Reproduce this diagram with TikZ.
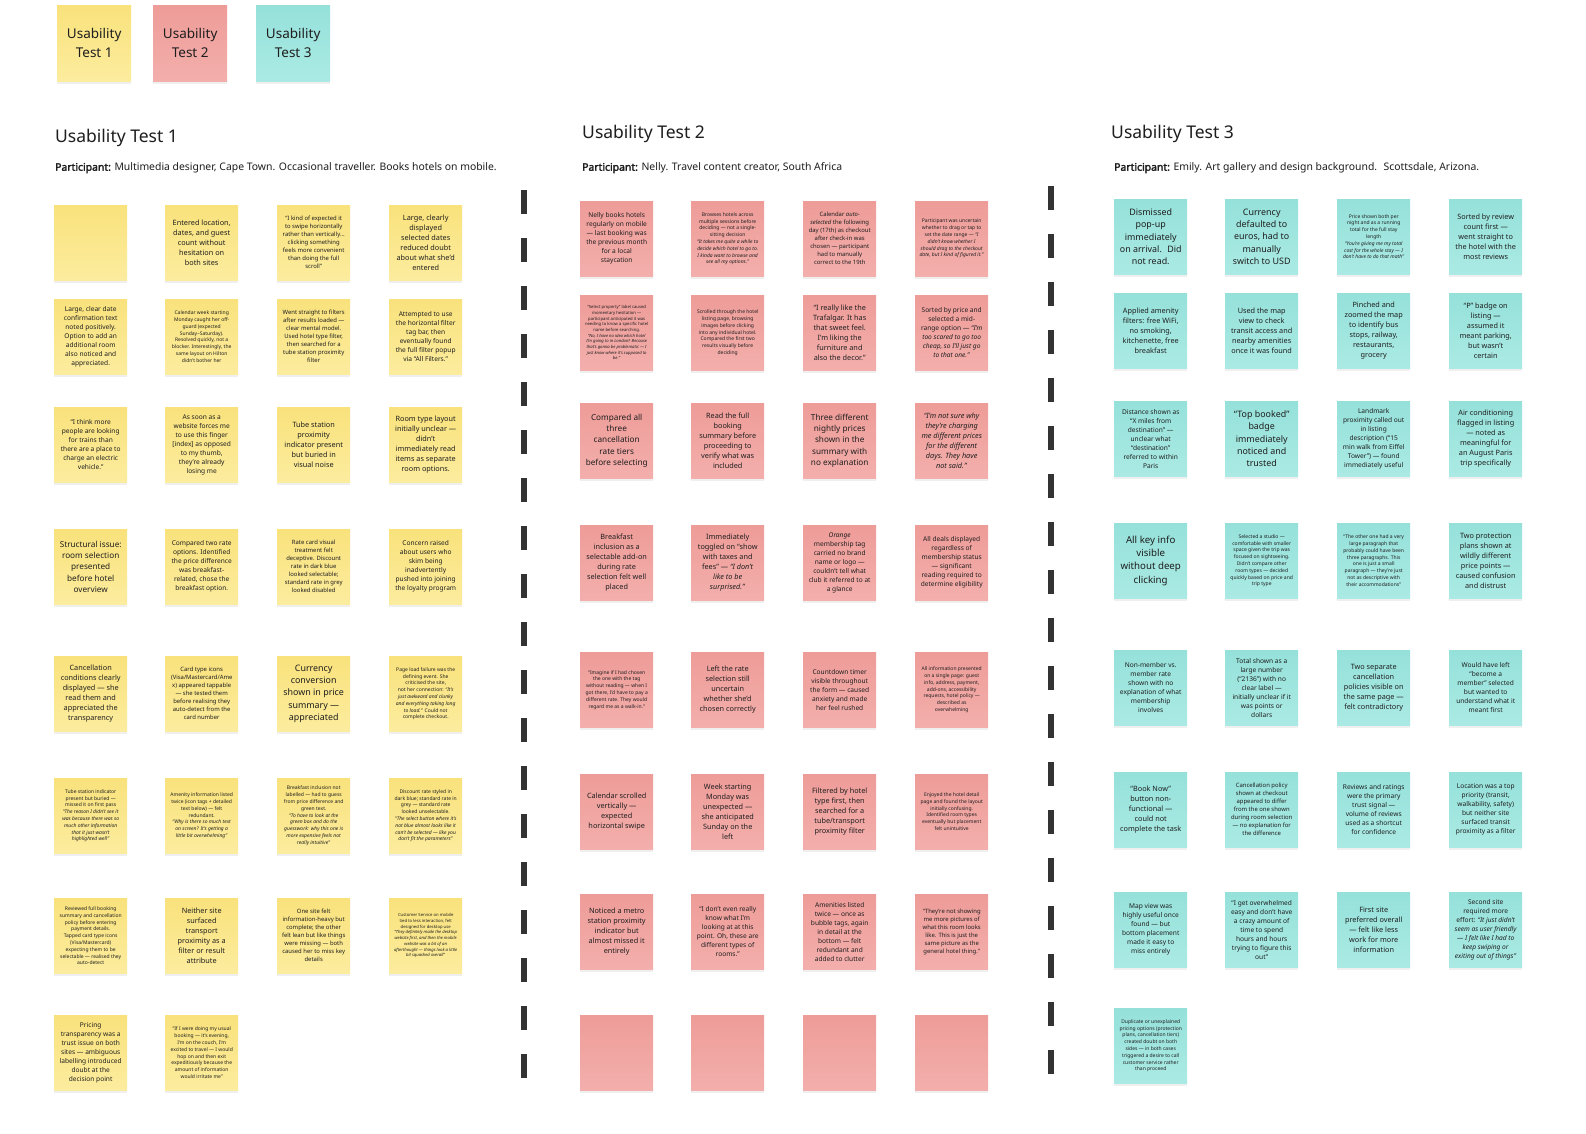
\documentclass[tikz,border=0pt]{standalone}
\usepackage{fontspec}
\setmainfont{Noto Sans}[AutoFakeBold=2.5]
\usetikzlibrary{shadows}

\definecolor{ink}{HTML}{1E1E1E}
\definecolor{rule}{HTML}{333333}
\definecolor{yelTop}{HTML}{F9E27C}
\definecolor{yelBot}{HTML}{FCEC9E}
\definecolor{redTop}{HTML}{EE9C98}
\definecolor{redBot}{HTML}{F3AFAC}
\definecolor{tealTop}{HTML}{95E1DA}
\definecolor{tealBot}{HTML}{ABEAE4}

\begin{document}
\begin{tikzpicture}[x=1pt, y=-1pt,
        note/.style={rectangle, anchor=north west, minimum width=73pt, minimum height=75pt, inner sep=0pt, align=center, text=ink,
            drop shadow={shadow xshift=0pt, shadow yshift=-3pt, opacity=0.12}},
        yel/.style={note, top color=yelTop, bottom color=yelBot},
        red/.style={note, top color=redTop, bottom color=redBot},
        teal/.style={note, top color=tealTop, bottom color=tealBot},
        keynote/.style={minimum width=74pt, minimum height=76pt, font=\fontsize{13.5}{19}\selectfont},
        fxl/.style={font=\fontsize{9.7}{13.3}\selectfont},
        fbig/.style={font=\fontsize{8.9}{12.2}\selectfont},
        flg/.style={font=\fontsize{8.2}{11.3}\selectfont},
        fmid/.style={font=\fontsize{7.3}{10}\selectfont},
        fsm/.style={font=\fontsize{6.6}{9}\selectfont},
        fmini/.style={font=\fontsize{5.9}{8}\selectfont},
        fmic/.style={font=\fontsize{5.0}{6.8}\selectfont},
        fnano/.style={font=\fontsize{4.2}{5.7}\selectfont},
        head/.style={anchor=west, inner sep=0pt, text=ink, font=\fontsize{17.5}{21}\selectfont},
        part/.style={anchor=west, inner sep=0pt, text=ink, font=\fontsize{10.4}{12.5}\selectfont},
        divider/.style={draw=rule, line width=6pt, dash pattern=on 24pt off 24pt}
    ]

    \fill[white] (0,0) rectangle (1586,1133);
    \useasboundingbox (0,0) rectangle (1586,1133);

    % legend
    \node[yel, keynote] (key1) at (57,5) {Usability\\Test 1};
    \node[red, keynote] (key2) at (153,5) {Usability\\Test 2};
    \node[teal, keynote] (key3) at (256,5) {Usability\\Test 3};

    % headings
    \node[head] (head1) at (55,137.5) {Usability Test 1};
    \node[head] (head2) at (582,133.5) {Usability Test 2};
    \node[head] (head3) at (1111,133.5) {Usability Test 3};
    \node[part] (part1) at (55,168) {\textbf{Participant:} Multimedia designer, Cape Town. Occasional traveller. Books hotels on mobile.};
    \node[part] (part2) at (582,168) {\textbf{Participant:} Nelly. Travel content creator, South Africa};
    \node[part] (part3) at (1114,168) {\textbf{Participant:} Emily. Art gallery and design background.~ Scottsdale, Arizona.};

    % dividers
    \coordinate (d1top) at (524,190);
    \coordinate (d1bot) at (524,1078);
    \coordinate (d2top) at (1051,186);
    \coordinate (d2bot) at (1051,1074);
    \draw[divider] (d1top) -- (d1bot);
    \draw[divider] (d2top) -- (d2bot);

    % Usability Test 1
    \node[yel] (y11) at (54,205) {};
    \node[yel, fmid] (y12) at (165,205) {Entered location,\\dates, and guest\\count without\\hesitation on\\both sites};
    \node[yel, fmini] (y13) at (277,205) {“I kind of expected it\\to swipe horizontally\\rather than vertically…\\clicking something\\feels more convenient\\than doing the full\\scroll”};
    \node[yel, fmid] (y14) at (389,205) {Large, clearly\\displayed\\selected dates\\reduced doubt\\about what she’d\\entered};

    \node[yel, fsm] (y21) at (54,299) {Large, clear date\\confirmation text\\noted positively.\\Option to add an\\additional room\\also noticed and\\appreciated.};
    \node[yel, fmic] (y22) at (165,299) {Calendar week starting\\Monday caught her off-\\guard (expected\\Sunday–Saturday).\\Resolved quickly, not a\\blocker. Interestingly, the\\same layout on Hilton\\didn’t bother her};
    \node[yel, fmini] (y23) at (277,299) {Went straight to filters\\after results loaded —\\clear mental model.\\Used hotel type filter,\\then searched for a\\tube station proximity\\filter};
    \node[yel, fsm] (y24) at (389,299) {Attempted to use\\the horizontal filter\\tag bar, then\\eventually found\\the full filter popup\\via “All Filters.”};

    \node[yel, fsm] (y31) at (54,407) {“I think more\\people are looking\\for trains than\\there are a place to\\charge an electric\\vehicle.”};
    \node[yel, fsm] (y32) at (165,407) {As soon as a\\website forces me\\to use this finger\\{[index]} as opposed\\to my thumb,\\they’re already\\losing me};
    \node[yel, fmid] (y33) at (277,407) {Tube station\\proximity\\indicator present\\but buried in\\visual noise};
    \node[yel, fmid] (y34) at (389,407) {Room type layout\\initially unclear —\\didn’t\\immediately read\\items as separate\\room options.};

    \node[yel, flg] (y41) at (54,529) {Structural issue:\\room selection\\presented\\before hotel\\overview};
    \node[yel, fsm] (y42) at (165,529) {Compared two rate\\options. Identified\\the price difference\\was breakfast-\\related, chose the\\breakfast option.};
    \node[yel, fmini] (y43) at (277,529) {Rate card visual\\treatment felt\\deceptive. Discount\\rate in dark blue\\looked selectable;\\standard rate in grey\\looked disabled};
    \node[yel, fsm] (y44) at (389,529) {Concern raised\\about users who\\skim being\\inadvertently\\pushed into joining\\the loyalty program};

    \node[yel, fmid] (y51) at (54,656) {Cancellation\\conditions clearly\\displayed — she\\read them and\\appreciated the\\transparency};
    \node[yel, fmini] (y52) at (165,656) {Card type icons\\(Visa/Mastercard/Ame\\x) appeared tappable\\— she tested them\\before realising they\\auto-detect from the\\card number};
    \node[yel, fbig] (y53) at (277,656) {Currency\\conversion\\shown in price\\summary —\\appreciated};
    \node[yel, fmic] (y54) at (389,656) {Page load failure was the\\defining event. She\\criticised the site,\\not her connection: \textit{“It’s}\\\textit{just awkward and clunky}\\\textit{and everything taking long}\\\textit{to load.”} Could not\\complete checkout.};

    \node[yel, fmic] (y61) at (54,778) {Tube station indicator\\present but buried —\\missed it on first pass\\\textit{“The reason I didn’t see it}\\\textit{was because there was so}\\\textit{much other information}\\\textit{that it just wasn’t}\\\textit{highlighted well”}};
    \node[yel, fmic] (y62) at (165,778) {Amenity information listed\\twice (icon tags + detailed\\text below) — felt\\redundant.\\\textit{“Why is there so much text}\\\textit{on screen? It’s getting a}\\\textit{little bit overwhelming”}};
    \node[yel, fmic] (y63) at (277,778) {Breakfast inclusion not\\labelled — had to guess\\from price difference and\\green text.\\\textit{“To have to look at the}\\\textit{green box and do the}\\\textit{guesswork: why this one is}\\\textit{more expensive feels not}\\\textit{really intuitive”}};
    \node[yel, fmic] (y64) at (389,778) {Discount rate styled in\\dark blue; standard rate in\\grey — standard rate\\looked unselectable.\\\textit{“The select button where it’s}\\\textit{not blue almost looks like it}\\\textit{can’t be selected — like you}\\\textit{don’t fit the parameters”}};

    \node[yel, fmic] (y71) at (54,898) {Reviewed full booking\\summary and cancellation\\policy before entering\\payment details.\\Tapped card type icons\\(Visa/Mastercard)\\expecting them to be\\selectable — realised they\\auto-detect};
    \node[yel, fmid] (y72) at (165,898) {Neither site\\surfaced\\transport\\proximity as a\\filter or result\\attribute};
    \node[yel, fmini] (y73) at (277,898) {One site felt\\information-heavy but\\complete; the other\\felt lean but like things\\were missing — both\\caused her to miss key\\details};
    \node[yel, fnano] (y74) at (389,898) {Customer Service on mobile\\tied to less interaction, felt\\designed for desktop use\\\textit{“They definitely made the desktop}\\\textit{website first, and then the mobile}\\\textit{website was a bit of an}\\\textit{afterthought — things look a little}\\\textit{bit squashed overall”}};

    \node[yel, fsm] (y81) at (54,1015) {Pricing\\transparency was a\\trust issue on both\\sites — ambiguous\\labelling introduced\\doubt at the\\decision point};
    \node[yel, fmic] (y82) at (165,1015) {“If I were doing my usual\\booking — it’s evening,\\I’m on the couch, I’m\\excited to travel — I would\\hop on and then exit\\expeditiously because the\\amount of information\\would irritate me”};

    % Usability Test 2
    \node[red, fsm] (r11) at (580,201) {Nelly books hotels\\regularly on mobile\\— last booking was\\the previous month\\for a local\\staycation};
    \node[red, fmic] (r12) at (691,201) {Browses hotels across\\multiple sessions before\\deciding — not a single-\\sitting decision\\\textit{“It takes me quite a while to}\\\textit{decide which hotel to go to.}\\\textit{I kinda want to browse and}\\\textit{see all my options.”}};
    \node[red, fmini] (r13) at (803,201) {Calendar \textit{auto-}\\\textit{selected} the following\\day (17th) as checkout\\after check-in was\\chosen — participant\\had to manually\\correct to the 19th};
    \node[red, fmic] (r14) at (915,201) {Participant was uncertain\\whether to drag or tap to\\set the date range — \textit{“I}\\\textit{didn’t know whether I}\\\textit{should drag to the checkout}\\\textit{date, but I kind of figured it.”}};

    \node[red, fnano] (r21) at (580,295) {“Select property” label caused\\momentary hesitation —\\participant anticipated it was\\needing to know a specific hotel\\name before searching.\\\textit{“No, I have no idea which hotel}\\\textit{I’m going to in London? Because}\\\textit{that’s gonna be problematic — I}\\\textit{just know where it’s supposed to}\\\textit{be.”}};
    \node[red, fmic] (r22) at (691,295) {Scrolled through the hotel\\listing page, browsing\\images before clicking\\into any individual hotel.\\Compared the first two\\results visually before\\deciding};
    \node[red, fmid] (r23) at (803,295) {“I really like the\\Trafalgar. It has\\that sweet feel.\\I’m liking the\\furniture and\\also the decor.”};
    \node[red, fsm] (r24) at (915,295) {Sorted by price and\\selected a mid-\\range option — \textit{“I’m}\\\textit{too scared to go too}\\\textit{cheap, so I’ll just go}\\\textit{to that one.”}};

    \node[red, flg] (r31) at (580,403) {Compared all\\three\\cancellation\\rate tiers\\before selecting};
    \node[red, fmid] (r32) at (691,403) {Read the full\\booking\\summary before\\proceeding to\\verify what was\\included};
    \node[red, flg] (r33) at (803,403) {Three different\\nightly prices\\shown in the\\summary with\\no explanation};
    \node[red, fmid] (r34) at (915,403) {\textit{“I’m not sure why}\\\textit{they’re charging}\\\textit{me different prices}\\\textit{for the different}\\\textit{days. They have}\\\textit{not said.”}};

    \node[red, fmid] (r41) at (580,525) {Breakfast\\inclusion as a\\selectable add-on\\during rate\\selection felt well\\placed};
    \node[red, fmid] (r42) at (691,525) {Immediately\\toggled on “show\\with taxes and\\fees” — \textit{“I don’t}\\\textit{like to be}\\\textit{surprised.”}};
    \node[red, fsm] (r43) at (803,525) {\textit{Orange}\\membership tag\\carried no brand\\name or logo —\\couldn’t tell what\\club it referred to at\\a glance};
    \node[red, fsm] (r44) at (915,525) {All deals displayed\\regardless of\\membership status\\— significant\\reading required to\\determine eligibility};

    \node[red, fmic] (r51) at (580,652) {“Imagine if I had chosen\\the one with the tag\\without reading — when I\\got there, I’d have to pay a\\different rate. They would\\regard me as a walk-in.”};
    \node[red, fmid] (r52) at (691,652) {Left the rate\\selection still\\uncertain\\whether she’d\\chosen correctly};
    \node[red, fsm] (r53) at (803,652) {Countdown timer\\visible throughout\\the form — caused\\anxiety and made\\her feel rushed};
    \node[red, fmic] (r54) at (915,652) {All information presented\\on a single page: guest\\info, address, payment,\\add-ons, accessibility\\requests, hotel policy —\\described as\\overwhelming};

    \node[red, fmid] (r61) at (580,774) {Calendar scrolled\\vertically —\\expected\\horizontal swipe};
    \node[red, fmid] (r62) at (691,774) {Week starting\\Monday was\\unexpected —\\she anticipated\\Sunday on the\\left};
    \node[red, fmid] (r63) at (803,774) {Filtered by hotel\\type first, then\\searched for a\\tube/transport\\proximity filter};
    \node[red, fmic] (r64) at (915,774) {Enjoyed the hotel detail\\page and found the layout\\initially confusing.\\Identified room types\\eventually but placement\\felt unintuitive};

    \node[red, fmid] (r71) at (580,894) {Noticed a metro\\station proximity\\indicator but\\almost missed it\\entirely};
    \node[red, fsm] (r72) at (691,894) {“I don’t even really\\know what I’m\\looking at at this\\point. Oh, these are\\different types of\\rooms.”};
    \node[red, fsm] (r73) at (803,894) {Amenities listed\\twice — once as\\bubble tags, again\\in detail at the\\bottom — felt\\redundant and\\added to clutter};
    \node[red, fmini] (r74) at (915,894) {“They’re not showing\\me more pictures of\\what this room looks\\like. This is just the\\same picture as the\\general hotel thing.”};

    \node[red] (r81) at (580,1015) {};
    \node[red] (r82) at (691,1015) {};
    \node[red] (r83) at (803,1015) {};
    \node[red] (r84) at (915,1015) {};

    % Usability Test 3
    \node[teal, fbig] (c11) at (1114,199) {Dismissed\\pop-up\\immediately\\on arrival.~ Did\\not read.};
    \node[teal, fbig] (c12) at (1225,199) {Currency\\defaulted to\\euros, had to\\manually\\switch to USD};
    \node[teal, fmic] (c13) at (1337,199) {Price shown both per\\night and as a running\\total for the full stay\\length\\\textit{“You’re giving me my total}\\\textit{cost for the whole stay — I}\\\textit{don’t have to do that math”}};
    \node[teal, fmid] (c14) at (1449,199) {Sorted by review\\count first —\\went straight to\\the hotel with the\\most reviews};

    \node[teal, fmid] (c21) at (1114,293) {Applied amenity\\filters: free WiFi,\\no smoking,\\kitchenette, free\\breakfast};
    \node[teal, fmid] (c22) at (1225,293) {Used the map\\view to check\\transit access and\\nearby amenities\\once it was found};
    \node[teal, fmid] (c23) at (1337,293) {Pinched and\\zoomed the map\\to identify bus\\stops, railway,\\restaurants,\\grocery};
    \node[teal, fmid] (c24) at (1449,293) {“P” badge on\\listing —\\assumed it\\meant parking,\\but wasn’t\\certain};

    \node[teal, fsm] (c31) at (1114,401) {Distance shown as\\“X miles from\\destination” —\\unclear what\\“destination”\\referred to within\\Paris};
    \node[teal, fbig] (c32) at (1225,401) {“Top booked”\\badge\\immediately\\noticed and\\trusted};
    \node[teal, fsm] (c33) at (1337,401) {Landmark\\proximity called out\\in listing\\description (“15\\min walk from Eiffel\\Tower”) — found\\immediately useful};
    \node[teal, fmid] (c34) at (1449,401) {Air conditioning\\flagged in listing\\— noted as\\meaningful for\\an August Paris\\trip specifically};

    \node[teal, fxl] (c41) at (1114,523) {All key info\\visible\\without deep\\clicking};
    \node[teal, fmic] (c42) at (1225,523) {Selected a studio —\\comfortable with smaller\\space given the trip was\\focused on sightseeing.\\Didn’t compare other\\room types — decided\\quickly based on price and\\trip type};
    \node[teal, fmic] (c43) at (1337,523) {“The other one had a very\\large paragraph that\\probably could have been\\three paragraphs. This\\one is just a small\\paragraph — they’re just\\not as descriptive with\\their accommodations”};
    \node[teal, fmid] (c44) at (1449,523) {Two protection\\plans shown at\\wildly different\\price points —\\caused confusion\\and distrust};

    \node[teal, fsm] (c51) at (1114,650) {Non-member vs.\\member rate\\shown with no\\explanation of what\\membership\\involves};
    \node[teal, fsm] (c52) at (1225,650) {Total shown as a\\large number\\(“2136”) with no\\clear label —\\initially unclear if it\\was points or\\dollars};
    \node[teal, fmid] (c53) at (1337,650) {Two separate\\cancellation\\policies visible on\\the same page —\\felt contradictory};
    \node[teal, fsm] (c54) at (1449,650) {Would have left\\“become a\\member” selected\\but wanted to\\understand what it\\meant first};

    \node[teal, fmid] (c61) at (1114,772) {“Book Now”\\button non-\\functional —\\could not\\complete the task};
    \node[teal, fmini] (c62) at (1225,772) {Cancellation policy\\shown at checkout\\appeared to differ\\from the one shown\\during room selection\\— no explanation for\\the difference};
    \node[teal, fsm] (c63) at (1337,772) {Reviews and ratings\\were the primary\\trust signal —\\volume of reviews\\used as a shortcut\\for confidence};
    \node[teal, fsm] (c64) at (1449,772) {Location was a top\\priority (transit,\\walkability, safety)\\but neither site\\surfaced transit\\proximity as a filter};

    \node[teal, fsm] (c71) at (1114,892) {Map view was\\highly useful once\\found — but\\bottom placement\\made it easy to\\miss entirely};
    \node[teal, fsm] (c72) at (1225,892) {“I get overwhelmed\\easy and don’t have\\a crazy amount of\\time to spend\\hours and hours\\trying to figure this\\out”};
    \node[teal, fmid] (c73) at (1337,892) {First site\\preferred overall\\— felt like less\\work for more\\information};
    \node[teal, fsm] (c74) at (1449,892) {Second site\\required more\\effort: \textit{“It just didn’t}\\\textit{seem as user friendly}\\\textit{— I felt like I had to}\\\textit{keep swiping or}\\\textit{exiting out of things”}};

    \node[teal, fmic] (c81) at (1114,1008) {Duplicate or unexplained\\pricing options (protection\\plans, cancellation tiers)\\created doubt on both\\sides — in both cases\\triggered a desire to call\\customer service rather\\than proceed};

\end{tikzpicture}
\end{document}
